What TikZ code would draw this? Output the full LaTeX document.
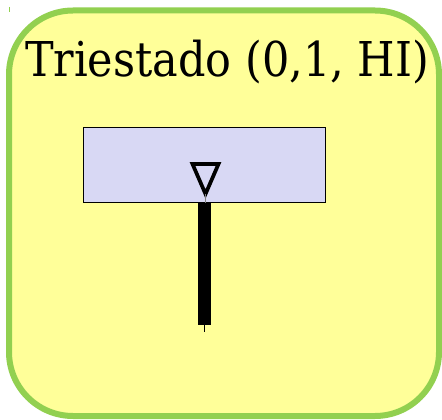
\documentclass[tikz,border=0pt]{standalone}
\usepackage{fontspec}
\usepackage{graphicx}
\newfontfamily\titlefont{DejaVu Serif}
\definecolor{boxyellow}{HTML}{FFFF99}
\definecolor{boxgreen}{HTML}{92D050}
\definecolor{lavender}{HTML}{D8D8F4}
\begin{document}
\begin{tikzpicture}[x=0.75pt,y=-0.75pt,
  outerbox/.style={draw=boxgreen,fill=boxyellow,line width=4.5pt,rounded corners=48pt},
  innerbox/.style={draw=black,fill=lavender,line width=0.75pt,inner sep=0pt,minimum width=181.5pt,minimum height=56.25pt},
  titletext/.style={font=\titlefont\fontsize{36}{40}\selectfont,inner sep=0pt,anchor=base},
  tristroke/.style={draw=black,line width=2.8pt,line join=miter},
  barline/.style={line width=9.75pt,black},
]
\useasboundingbox (0,0) rectangle (442,420);
\draw[boxgreen,line width=0.75pt] (9,7) -- (9,12);
\draw[outerbox] (9,10.5) rectangle (439,416);
\node[titletext] (title) at (227,77) {\scalebox{0.895}[1]{Triestado (0,1, HI)}};
\node[innerbox] (inner) at (204,165.5) {};
\coordinate (tipA) at (192.5,164);
\coordinate (tipB) at (218.5,164);
\coordinate (tipC) at (205.5,194);
\draw[tristroke] (tipA) -- (tipB) -- (tipC) -- cycle;
\coordinate (barend) at (204.5,325);
\coordinate (stubend) at (204.5,332);
\draw[gray,line width=0.75pt] (tipC) -- (tipC |- inner.south);
\draw[barline] (barend |- inner.south) -- (barend);
\draw[black,line width=0.75pt] (barend) -- (stubend);
\end{tikzpicture}
\end{document}
